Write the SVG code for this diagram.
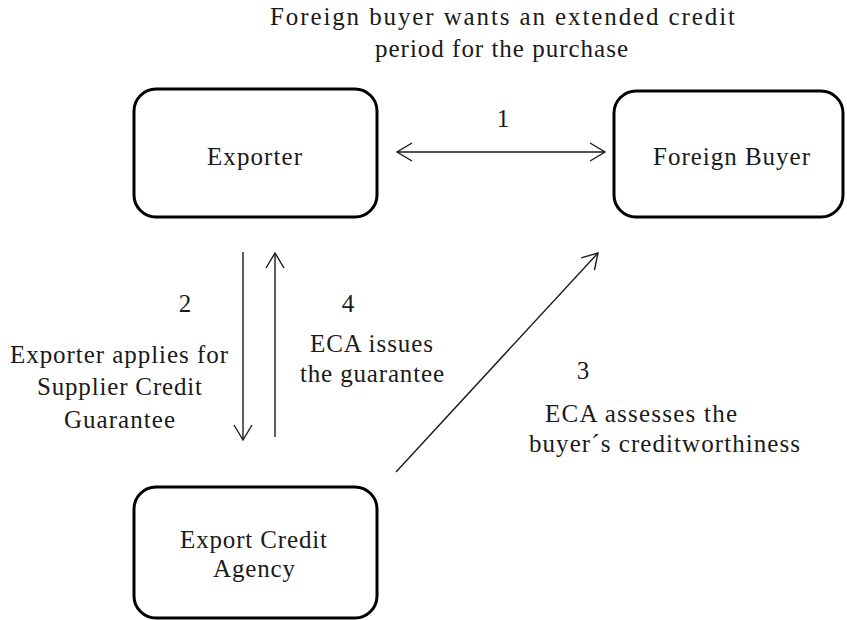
<svg xmlns="http://www.w3.org/2000/svg" width="847" height="620" viewBox="0 0 847 620">
<style>
.box{fill:#fff;stroke:#000;stroke-width:3}
.t{font-family:"Liberation Serif","Times New Roman",serif;font-size:25px;fill:#1a1a1a;text-anchor:middle}
.c{stroke:#1a1a1a;stroke-width:1.4;fill:none}
</style>
<defs>
<marker id="ah" markerUnits="userSpaceOnUse" markerWidth="20" markerHeight="22" refX="16" refY="10" orient="auto-start-reverse" viewBox="0 0 20 22">
<path d="M1,1 L16,10 L1,19" fill="none" stroke="#1a1a1a" stroke-width="1.4"/>
</marker>
</defs>
<rect width="847" height="620" fill="#fff"/>
<g id="title">
<text class="t" x="502.5" y="25" textLength="465">Foreign buyer wants an extended credit</text>
<text class="t" x="501.5" y="57" textLength="253">period for the purchase</text>
</g>
<g id="exporter">
<rect class="box" x="134" y="89" width="243" height="128" rx="22"/>
<text class="t" x="254.5" y="165" textLength="95">Exporter</text>
</g>
<g id="foreign-buyer">
<rect class="box" x="614" y="91" width="229" height="126" rx="22"/>
<text class="t" x="731.5" y="165" textLength="157">Foreign Buyer</text>
</g>
<g id="eca">
<rect class="box" x="134" y="487" width="243" height="131" rx="22"/>
<text class="t" x="253.5" y="548" textLength="147">Export Credit</text>
<text class="t" x="254" y="577" textLength="82">Agency</text>
</g>
<g id="connectors">
<line class="c" x1="397" y1="152" x2="605" y2="152" marker-start="url(#ah)" marker-end="url(#ah)"/>
<line class="c" x1="243" y1="252" x2="243" y2="440" marker-end="url(#ah)"/>
<line class="c" x1="275" y1="437" x2="275" y2="253" marker-end="url(#ah)"/>
<line class="c" x1="396" y1="472" x2="598" y2="253" marker-end="url(#ah)"/>
</g>
<g id="labels">
<text class="t" x="503" y="127">1</text>
<text class="t" x="185" y="312">2</text>
<text class="t" x="119" y="363" textLength="218">Exporter applies for</text>
<text class="t" x="119.5" y="395" textLength="165">Supplier Credit</text>
<text class="t" x="119.5" y="428" textLength="111">Guarantee</text>
<text class="t" x="348" y="312">4</text>
<text class="t" x="371.5" y="352" textLength="123">ECA issues</text>
<text class="t" x="372" y="382" textLength="144">the guarantee</text>
<text class="t" x="583" y="379">3</text>
<text class="t" x="641" y="422" textLength="192">ECA assesses the</text>
<text class="t" x="664.5" y="452" textLength="271">buyer´s creditworthiness</text>
</g>
</svg>
